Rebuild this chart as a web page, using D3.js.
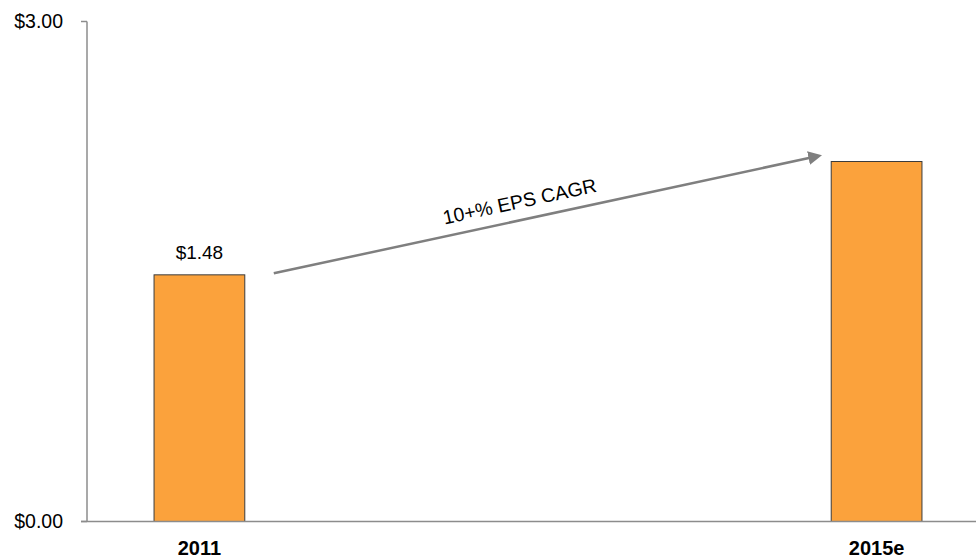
<!DOCTYPE html>
<html>
<head>
<meta charset="utf-8">
<script src="https://cdn.jsdelivr.net/npm/d3@7"></script>
<style>
  body { margin: 0; background: #fff; }
  svg { display: block; font-family: "Liberation Sans", Arial, sans-serif; }
</style>
</head>
<body>
<div id="chart"></div>
<script>
const categories = ["2011", "2015e"];
const values = [1.48, 2.16];
const valueLabels = ["$1.48", ""];
const yTicks = [0, 3];
const arrowText = "10+% EPS CAGR";

const FRAME_WIDTH = 976;
const FRAME_HEIGHT = 558;
const AXIS_X = 87;
const BASE_Y = 521.5;
const TOP_Y = 21.5;

const svg = d3.select("#chart")
  .append("svg")
    .attr("width", FRAME_WIDTH)
    .attr("height", FRAME_HEIGHT);

const X_SCALE = d3.scaleBand()
  .domain(categories)
  .range([AXIS_X, 989])
  .paddingInner(0.866)
  .paddingOuter(0.099);

const Y_SCALE = d3.scaleLinear()
  .domain([0, 3])
  .range([BASE_Y, TOP_Y]);

// bars
svg.selectAll(".bar")
  .data(values)
  .enter()
  .append("rect")
    .attr("class", "bar")
    .attr("x", (d, i) => X_SCALE(categories[i]))
    .attr("y", d => Y_SCALE(d))
    .attr("width", X_SCALE.bandwidth())
    .attr("height", d => BASE_Y - Y_SCALE(d))
    .attr("fill", "#FBA23C")
    .attr("stroke", "#3b3b3b")
    .attr("stroke-width", 1);

// value labels
svg.selectAll(".vlabel")
  .data(values)
  .enter()
  .append("text")
    .attr("x", (d, i) => X_SCALE(categories[i]) + X_SCALE.bandwidth() / 2)
    .attr("y", d => Y_SCALE(d) - 16)
    .attr("text-anchor", "middle")
    .attr("font-size", "19px")
    .attr("fill", "#000")
    .text((d, i) => valueLabels[i]);

// y axis line + ticks
svg.append("line")
  .attr("x1", AXIS_X).attr("x2", AXIS_X)
  .attr("y1", TOP_Y).attr("y2", BASE_Y)
  .attr("stroke", "#8c8c8c").attr("stroke-width", 1.5);

svg.selectAll(".ytick")
  .data(yTicks)
  .enter()
  .append("line")
    .attr("x1", AXIS_X - 6).attr("x2", AXIS_X)
    .attr("y1", d => Y_SCALE(d)).attr("y2", d => Y_SCALE(d))
    .attr("stroke", "#8c8c8c").attr("stroke-width", 1.5);

svg.selectAll(".ylabel")
  .data(yTicks)
  .enter()
  .append("text")
    .attr("x", 63)
    .attr("y", d => Y_SCALE(d) + 6.5)
    .attr("text-anchor", "end")
    .attr("font-size", "19.5px")
    .attr("fill", "#000")
    .text(d => "$" + d.toFixed(2));

// x axis baseline
svg.append("line")
  .attr("x1", AXIS_X - 6).attr("x2", FRAME_WIDTH)
  .attr("y1", BASE_Y).attr("y2", BASE_Y)
  .attr("stroke", "#8c8c8c").attr("stroke-width", 1.5);

// category labels
svg.selectAll(".xlabel")
  .data(categories)
  .enter()
  .append("text")
    .attr("x", d => X_SCALE(d) + X_SCALE.bandwidth() / 2)
    .attr("y", 555)
    .attr("text-anchor", "middle")
    .attr("font-size", "20px")
    .attr("font-weight", "bold")
    .attr("fill", "#000")
    .text(d => d);

// growth arrow
svg.append("defs").append("marker")
  .attr("id", "arrowhead")
  .attr("viewBox", "0 0 10 10")
  .attr("refX", 2).attr("refY", 5)
  .attr("markerWidth", 5.5).attr("markerHeight", 5.5)
  .attr("orient", "auto")
  .append("path")
    .attr("d", "M0,0 L10,5 L0,10 Z")
    .attr("fill", "#7f7f7f");

const x1 = X_SCALE(categories[0]) + X_SCALE.bandwidth() + 29;
const y1 = Y_SCALE(values[0]) - 1.5;
const x2 = X_SCALE(categories[1]) - 20;
const y2 = Y_SCALE(values[1]) - 4;

svg.append("line")
  .attr("x1", x1).attr("y1", y1)
  .attr("x2", x2).attr("y2", y2)
  .attr("stroke", "#7f7f7f")
  .attr("stroke-width", 2.5)
  .attr("marker-end", "url(#arrowhead)");

const angle = Math.atan2(y2 - y1, x2 - x1) * 180 / Math.PI;
svg.append("text")
  .attr("transform", "translate(" + 521 + "," + 208 + ") rotate(" + angle + ")")
  .attr("text-anchor", "middle")
  .attr("font-size", "19.5px")
  .attr("fill", "#000")
  .text(arrowText);
</script>
</body>
</html>
